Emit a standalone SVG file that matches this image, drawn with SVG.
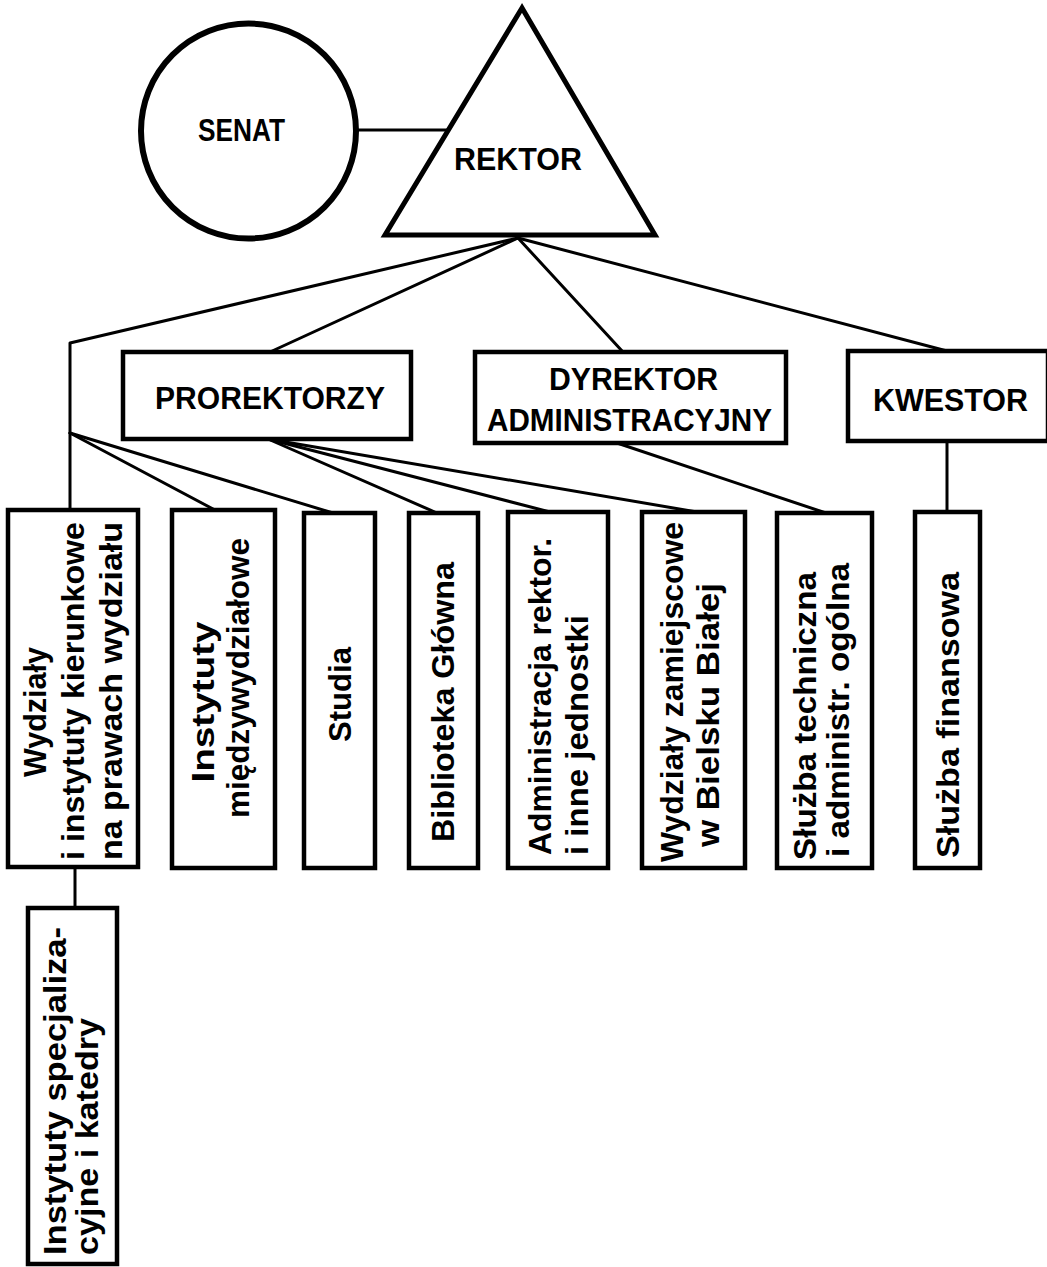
<svg xmlns="http://www.w3.org/2000/svg" width="1047" height="1267" viewBox="0 0 1047 1267">
<style>
.box{fill:#fff;stroke:#000;stroke-width:4.5}
.ln{fill:none;stroke:#000;stroke-width:3;stroke-linecap:round;stroke-linejoin:round}
.t{font-family:"Liberation Sans",Arial,sans-serif;font-weight:bold;font-size:32px;fill:#000}
.v{font-family:"Liberation Sans",Arial,sans-serif;font-weight:bold;font-size:32px;fill:#000;text-anchor:middle}
</style>
<rect width="1047" height="1267" fill="#fff"/>
<g id="connectors">
<line class="ln" x1="357" y1="130" x2="447" y2="130"/>
<polyline class="ln" points="518,238 70,343 70,510"/>
<line class="ln" x1="518" y1="238" x2="270" y2="352"/>
<line class="ln" x1="518" y1="238" x2="623" y2="352"/>
<line class="ln" x1="518" y1="238" x2="947" y2="351"/>
<line class="ln" x1="70" y1="433" x2="215" y2="510"/>
<line class="ln" x1="70" y1="433" x2="333" y2="513"/>
<line class="ln" x1="268" y1="439" x2="437" y2="513"/>
<line class="ln" x1="268" y1="439" x2="550" y2="512"/>
<line class="ln" x1="268" y1="439" x2="697" y2="512"/>
<line class="ln" x1="617" y1="443" x2="826" y2="513"/>
<line class="ln" x1="947" y1="441" x2="947" y2="512"/>
<line class="ln" x1="75" y1="867" x2="75" y2="908"/>
</g>
<g id="senat">
<circle cx="248.5" cy="131" r="107.5" fill="#fff" stroke="#000" stroke-width="6"/>
<text class="t" x="198" y="141" textLength="87" lengthAdjust="spacingAndGlyphs">SENAT</text>
</g>
<g id="rektor">
<polygon points="522,8 385,235 655,235" fill="#fff" stroke="#000" stroke-width="5"/>
<text class="t" x="454" y="170" textLength="128" lengthAdjust="spacingAndGlyphs">REKTOR</text>
</g>
<g id="prorektorzy">
<rect class="box" x="123" y="352" width="288" height="87"/>
<text class="t" x="155" y="409" textLength="230" lengthAdjust="spacingAndGlyphs">PROREKTORZY</text>
</g>
<g id="dyrektor">
<rect class="box" x="475" y="352" width="311" height="91"/>
<text class="t" x="549" y="390" textLength="169" lengthAdjust="spacingAndGlyphs">DYREKTOR</text>
<text class="t" x="487" y="431" textLength="285" lengthAdjust="spacingAndGlyphs">ADMINISTRACYJNY</text>
</g>
<g id="kwestor">
<rect class="box" x="848" y="351" width="200" height="90"/>
<text class="t" x="873" y="411" textLength="155" lengthAdjust="spacingAndGlyphs">KWESTOR</text>
</g>
<g id="wydzialy">
<rect class="box" x="8" y="510" width="130" height="357"/>
<text class="v" transform="translate(46,712) rotate(-90)" textLength="130" lengthAdjust="spacingAndGlyphs">Wydziały</text>
<text class="v" transform="translate(84,691) rotate(-90)" textLength="338" lengthAdjust="spacingAndGlyphs">i instytuty kierunkowe</text>
<text class="v" transform="translate(122,691) rotate(-90)" textLength="338" lengthAdjust="spacingAndGlyphs">na prawach wydziału</text>
</g>
<g id="instytuty-miedzywydzialowe">
<rect class="box" x="172" y="510" width="103" height="358"/>
<text class="v" transform="translate(214,702) rotate(-90)" textLength="161" lengthAdjust="spacingAndGlyphs">Instytuty</text>
<text class="v" transform="translate(249,678) rotate(-90)" textLength="280" lengthAdjust="spacingAndGlyphs">międzywydziałowe</text>
</g>
<g id="studia">
<rect class="box" x="304" y="513" width="71" height="355"/>
<text class="v" transform="translate(351,694.5) rotate(-90)" textLength="95" lengthAdjust="spacingAndGlyphs">Studia</text>
</g>
<g id="biblioteka">
<rect class="box" x="409" y="513" width="69" height="355"/>
<text class="v" transform="translate(454,702) rotate(-90)" textLength="280" lengthAdjust="spacingAndGlyphs">Biblioteka Główna</text>
</g>
<g id="administracja">
<rect class="box" x="508" y="512" width="100" height="356"/>
<text class="v" transform="translate(551,696.5) rotate(-90)" textLength="317" lengthAdjust="spacingAndGlyphs">Administracja rektor.</text>
<text class="v" transform="translate(588,735) rotate(-90)" textLength="240" lengthAdjust="spacingAndGlyphs">i inne jednostki</text>
</g>
<g id="wydzialy-zamiejscowe">
<rect class="box" x="642" y="512" width="103" height="356"/>
<text class="v" transform="translate(683,692) rotate(-90)" textLength="340" lengthAdjust="spacingAndGlyphs">Wydziały zamiejscowe</text>
<text class="v" transform="translate(719,715) rotate(-90)" textLength="264" lengthAdjust="spacingAndGlyphs">w Bielsku Białej</text>
</g>
<g id="sluzba-techniczna">
<rect class="box" x="777" y="513" width="95" height="355"/>
<text class="v" transform="translate(816,716) rotate(-90)" textLength="288" lengthAdjust="spacingAndGlyphs">Służba techniczna</text>
<text class="v" transform="translate(849,710) rotate(-90)" textLength="294" lengthAdjust="spacingAndGlyphs">i administr. ogólna</text>
</g>
<g id="sluzba-finansowa">
<rect class="box" x="915" y="512" width="65" height="356"/>
<text class="v" transform="translate(959,715) rotate(-90)" textLength="286" lengthAdjust="spacingAndGlyphs">Służba finansowa</text>
</g>
<g id="instytuty-specjalizacyjne">
<rect class="box" x="28" y="908" width="89" height="356"/>
<text class="v" transform="translate(66,1091) rotate(-90)" textLength="328" lengthAdjust="spacingAndGlyphs">Instytuty specjaliza-</text>
<text class="v" transform="translate(98,1136.5) rotate(-90)" textLength="237" lengthAdjust="spacingAndGlyphs">cyjne i katedry</text>
</g>
</svg>
